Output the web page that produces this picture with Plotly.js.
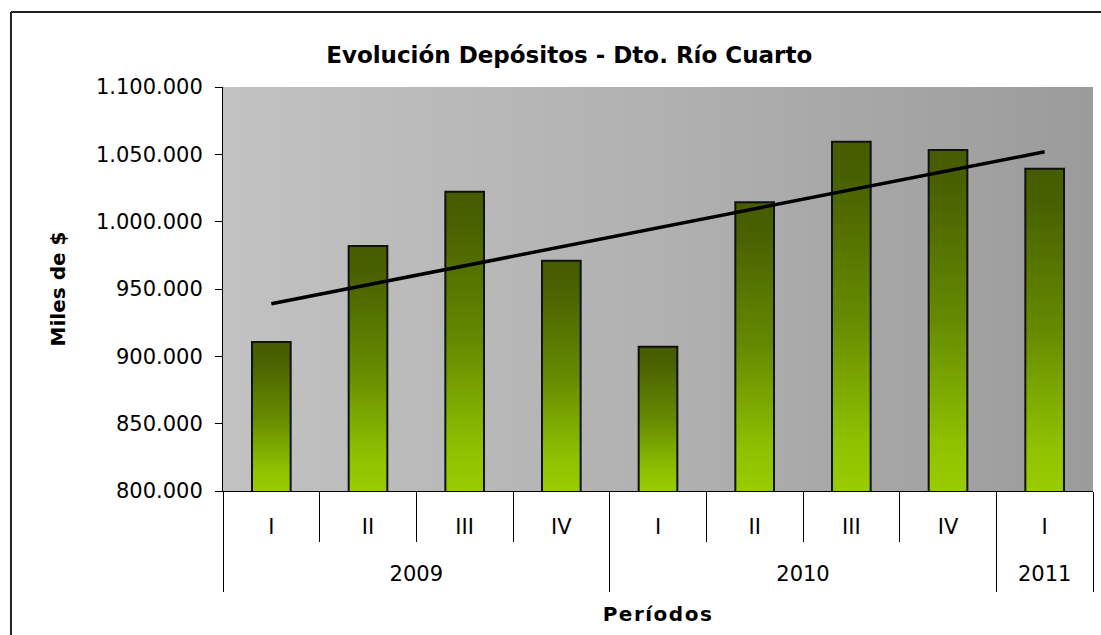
<!DOCTYPE html>
<html><head><meta charset="utf-8">
<script src="https://cdn.plot.ly/plotly-3.0.1.min.js"></script>
<style>html,body{margin:0;padding:0;background:#fff}#chart{width:1101px;height:635px}</style>
</head><body><div id="chart"></div>
<script>
// ---- data ----
const years = ['2009','2009','2009','2009','2010','2010','2010','2010','2011'];
const quarters = ['I','II','III','IV','I','II','III','IV','I'];
const depositos = [910600, 981900, 1022300, 971000, 907200, 1014400, 1059400, 1053200, 1039300];
const yTickVals = [800000, 850000, 900000, 950000, 1000000, 1050000, 1100000];

// ---- positions derived from the category arrays ----
const pos = quarters.map((_, i) => i);
const qBounds = pos.map(i => i - 0.5).concat([pos.length - 0.5]);
const yearNames = [], yearCenters = [], yearBounds = [-0.5];
years.forEach((y, i) => {
  if (i === 0 || years[i - 1] !== y) { yearNames.push(y); }
  if (i === years.length - 1 || years[i + 1] !== y) {
    const start = yearBounds[yearBounds.length - 1];
    yearBounds.push(i + 0.5);
    yearCenters.push((start + i + 0.5) / 2);
  }
});

// ---- linear trend (least squares, as in the spreadsheet trendline) ----
const n = depositos.length;
const idx = depositos.map((_, i) => i + 1);
const mx = idx.reduce((a, b) => a + b, 0) / n;
const my = depositos.reduce((a, b) => a + b, 0) / n;
let sxy = 0, sxx = 0;
for (let i = 0; i < n; i++) { sxy += (idx[i] - mx) * (depositos[i] - my); sxx += (idx[i] - mx) ** 2; }
const slope = sxy / sxx, intercept = my - slope * mx;
const trend = idx.map(v => intercept + slope * v);

const FONT = 'DejaVu Sans';
const XR = [-0.5, pos.length - 0.5];

const traces = [
  {
    type: 'bar',
    x: pos,
    y: depositos,
    width: 0.4,
    marker: { color: '#6f9400', line: { color: '#111', width: 2 } },
    hoverinfo: 'y'
  },
  {
    type: 'scatter',
    mode: 'lines',
    x: pos,
    y: trend,
    line: { color: '#000', width: 3.5 },
    hoverinfo: 'skip'
  },
  { type: 'scatter', x: yearCenters, y: yearCenters.map(() => null), xaxis: 'x2', hoverinfo: 'skip', showlegend: false }
];

const layout = {
  width: 1101, height: 635,
  margin: { l: 223, r: 8, t: 87, b: 144 },
  paper_bgcolor: '#ffffff',
  plot_bgcolor: '#b0b0b0',
  separators: ',.',
  showlegend: false,
  font: { family: FONT, color: '#000' },
  title: {
    text: '<b>Evolución Depósitos - Dto. Río Cuarto</b>',
    font: { family: FONT, size: 23, color: '#000' },
    xref: 'container', x: 0.517, xanchor: 'center',
    yref: 'container', y: 0.913, yanchor: 'middle'
  },
  xaxis: {
    range: XR, fixedrange: true,
    tickmode: 'array', tickvals: pos, ticktext: quarters,
    ticks: '',
    minor: { tickmode: 'array', tickvals: qBounds, ticks: 'outside', ticklen: 50, tickcolor: '#000', tickwidth: 1, showgrid: false },
    showline: true, linecolor: '#000', linewidth: 1,
    tickfont: { family: FONT, size: 21, color: '#000' },
    ticklabelstandoff: 17,
    showgrid: false, zeroline: false
  },
  xaxis2: {
    overlaying: 'x', anchor: 'free', position: 0, side: 'bottom',
    range: XR, fixedrange: true,
    tickmode: 'array', tickvals: yearCenters, ticktext: yearNames,
    ticks: '',
    minor: { tickmode: 'array', tickvals: yearBounds, ticks: 'outside', ticklen: 100, tickcolor: '#000', tickwidth: 1, showgrid: false },
    showline: false,
    tickfont: { family: FONT, size: 21, color: '#000' },
    ticklabelstandoff: 68,
    showgrid: false, zeroline: false,
    title: { text: '<b>Períodos</b>', font: { family: FONT, size: 20, color: '#000' }, standoff: 21 }
  },
  yaxis: {
    range: [800000, 1100000], fixedrange: true,
    tickvals: yTickVals,
    tickformat: ',d',
    showline: true, linecolor: '#000', linewidth: 1,
    ticks: 'outside', ticklen: 7, tickcolor: '#000', tickwidth: 1,
    ticklabelstandoff: 8,
    tickfont: { family: FONT, size: 21, color: '#000' },
    showgrid: false, zeroline: false,
    title: { text: '<b>Miles de $</b>', font: { family: FONT, size: 20, color: '#000' }, standoff: 24 }
  },
  shapes: [
    { type: 'line', xref: 'paper', yref: 'paper', x0: -0.2437, x1: -0.2437, y0: -0.5, y1: 1.1856, line: { color: '#222', width: 2 } },
    { type: 'line', xref: 'paper', yref: 'paper', x0: -0.2437, x1: 1.05, y0: 1.1856, y1: 1.1856, line: { color: '#222', width: 2 } }
  ]
};

function addGradients(gd) {
  const NS = 'http://www.w3.org/2000/svg';
  const svg = gd.querySelector('svg.main-svg');
  let defs = svg.querySelector('defs');
  if (!defs) { defs = document.createElementNS(NS, 'defs'); svg.insertBefore(defs, svg.firstChild); }
  function grad(id, x1, y1, x2, y2, units, stops) {
    const g = document.createElementNS(NS, 'linearGradient');
    g.setAttribute('id', id);
    g.setAttribute('gradientUnits', units);
    g.setAttribute('x1', x1); g.setAttribute('y1', y1);
    g.setAttribute('x2', x2); g.setAttribute('y2', y2);
    stops.forEach(s => {
      const st = document.createElementNS(NS, 'stop');
      st.setAttribute('offset', s[0]);
      st.setAttribute('stop-color', s[1]);
      g.appendChild(st);
    });
    defs.appendChild(g);
  }
  // each bar: dark olive at its top, bright yellow-green at the axis (plot bottom)
  const plotH = gd._fullLayout._size.h;
  const barStops = [['0', '#465c00'], ['0.1', '#486000'], ['0.5', '#658a00'], ['0.85', '#8ec000'], ['1', '#9acc00']];
  gd.querySelectorAll('.barlayer .point path').forEach((p, i) => {
    const b = p.getBBox();
    const id = 'barGrad' + i;
    grad(id, b.x, b.y, b.x, plotH, 'userSpaceOnUse', barStops);
    p.style.setProperty('fill', 'url(#' + id + ')', 'important');
  });
  grad('bgGrad', '0', '0', '1', '0', 'objectBoundingBox', [['0', '#c2c2c2'], ['0.5', '#b1b1b1'], ['1', '#9b9b9b']]);
  const bg = gd.querySelector('.bglayer rect.bg');
  if (bg) bg.style.fill = 'url(#bgGrad)';
  const xt = gd.querySelector('.x2title');
  if (xt) xt.style.letterSpacing = '1.5px';
}

Plotly.newPlot('chart', traces, layout, { displayModeBar: false, staticPlot: true })
  .then(addGradients);
</script>
</body></html>
